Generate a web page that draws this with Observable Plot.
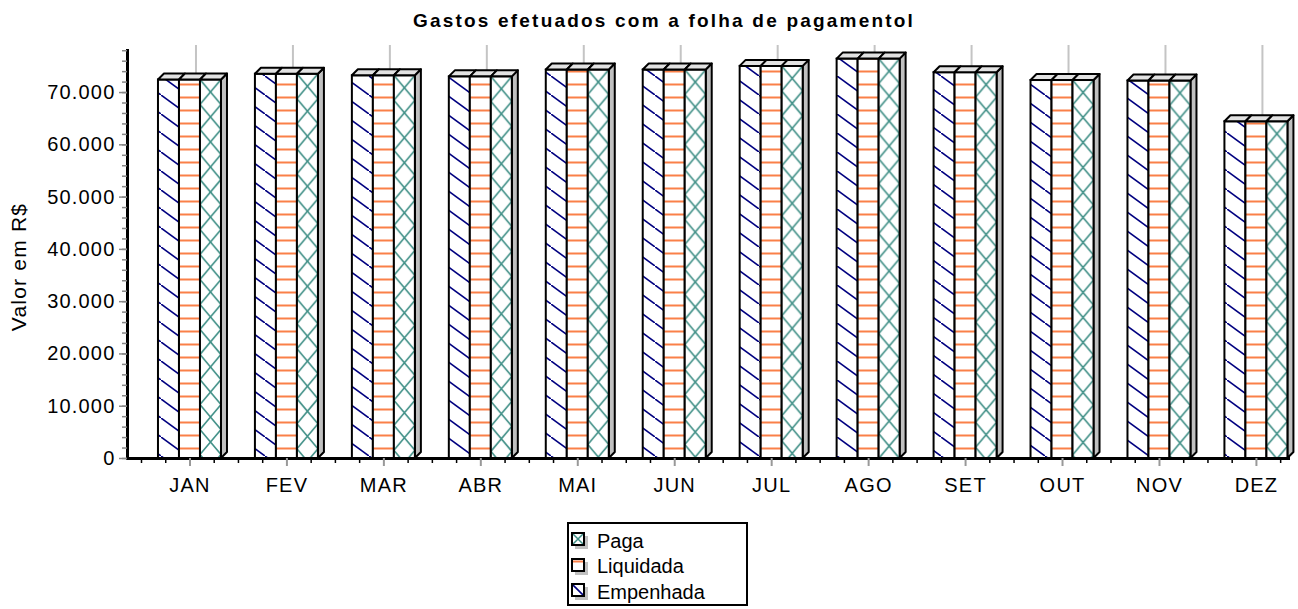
<!DOCTYPE html>
<html>
<head>
<meta charset="utf-8">
<script src="https://cdn.jsdelivr.net/npm/d3@7"></script>
<script src="https://cdn.jsdelivr.net/npm/@observablehq/plot@0.6"></script>
<style>
  body { margin: 0; background: #fff; font-family: "Liberation Sans", Arial, sans-serif; }
  #wrap { position: relative; width: 1298px; height: 609px; overflow: hidden; background: #fff; }
  #title { position: absolute; top: 10px; left: 0; width: 1328px; text-align: center; font-weight: bold; font-size: 19px; letter-spacing: 2.2px; color: #000; }
  #chart { position: absolute; top: 0; left: 0; }
  #chart svg text { font-size: 20px; letter-spacing: 1.2px; }
  #chart svg text.ylab { font-size: 21px; }
  #legend { position: absolute; left: 567px; top: 522px; width: 181px; height: 84px; border: 2px solid #000; background: #fff; box-sizing: border-box; }
  .item { position: absolute; left: 2px; height: 24px; display: flex; align-items: center; font-size: 20px; color: #000; }
  .item svg { margin-right: 8px; }
</style>
</head>
<body>
<div id="wrap">
  <div id="title">Gastos efetuados com a folha de pagamentol</div>
  <div id="chart"></div>
  <div id="legend"></div>
</div>
<script>
// ---- data ----
const months = ["JAN", "FEV", "MAR", "ABR", "MAI", "JUN", "JUL", "AGO", "SET", "OUT", "NOV", "DEZ"];
const seriesNames = ["Empenhada", "Liquidada", "Paga"];
const empenhada = [72400, 73500, 73200, 73000, 74300, 74300, 75000, 76400, 73800, 72300, 72200, 64400];
const liquidada = [72400, 73500, 73200, 73000, 74300, 74300, 75000, 76400, 73800, 72300, 72200, 64400];
const paga      = [72400, 73500, 73200, 73000, 74300, 74300, 75000, 76400, 73800, 72300, 72200, 64400];
const yTicks = [0, 10000, 20000, 30000, 40000, 50000, 60000, 70000];
const yMinorTicks = d3.range(0, 78001, 2000);
const legendOrder = ["Paga", "Liquidada", "Empenhada"];

const valuesBySeries = {Empenhada: empenhada, Liquidada: liquidada, Paga: paga};
const rows = [];
months.forEach((m, i) => seriesNames.forEach(s => rows.push({month: m, series: s, value: valuesBySeries[s][i]})));

// ---- layout ----
const W = 1298, H = 500;
const xRange = [141, 1304.4];
const step = (xRange[1] - xRange[0]) / months.length;
const barW = 21;
const depth = 6;
const inset = (step - barW) / 2;
const offset = {Empenhada: -barW, Liquidada: 0, Paga: barW};
const ns = "http://www.w3.org/2000/svg";

const fmt = d3.formatLocale({decimal: ",", thousands: ".", grouping: [3], currency: ["R$", ""]}).format(",d");

// ---- patterns ----
function patternDefs() {
  const defs = document.createElementNS(ns, "defs");
  defs.innerHTML = `
    <pattern id="pEmp" patternUnits="userSpaceOnUse" width="26" height="19">
      <rect width="26" height="19" fill="#fff"/>
      <path d="M-2.6,-1.9L28.6,20.9" stroke="#000080" stroke-width="1.6" fill="none"/>
    </pattern>
    <pattern id="pLiq" patternUnits="userSpaceOnUse" width="20" height="13">
      <rect width="20" height="13" fill="#fff"/>
      <path d="M0,6.5H20" stroke="#fa8048" stroke-width="2" fill="none"/>
    </pattern>
    <pattern id="pPaga" patternUnits="objectBoundingBox" patternContentUnits="userSpaceOnUse" x="0" y="0" width="1" height="1">
      <rect width="${barW}" height="600" fill="#fff"/>
      <path d="${d3.range(0, 24).map(k => `M0,${k*25}L${barW},${k*25+25}M0,${k*25+25}L${barW},${k*25}`).join("")}" stroke="#3f8f86" stroke-width="1.6" fill="none"/>
    </pattern>`;
  return defs;
}
const fills = {Empenhada: "url(#pEmp)", Liquidada: "url(#pLiq)", Paga: "url(#pPaga)"};

// 3D faces (top and right side) drawn from Plot's own scales
function faces(kind) {
  return (index, scales) => {
    const x = scales.x, y = scales.y;
    const bw = x.bandwidth ? x.bandwidth() : step;
    const g = document.createElementNS(ns, "g");
    for (const d of rows) {
      const cx = x(d.month) + bw / 2 + offset[d.series];
      const x0 = cx - barW / 2, x1 = cx + barW / 2;
      const yt = y(d.value), yb = y(0);
      let pts = null, fill;
      if (kind === "side" && d.series === "Paga") {
        pts = [[x1, yb], [x1 + depth, yb - depth], [x1 + depth, yt - depth], [x1, yt]];
        fill = "#c0c0c0";
      } else if (kind === "top") {
        pts = [[x0, yt], [x0 + depth, yt - depth], [x1 + depth, yt - depth], [x1, yt]];
        fill = "#e2e2e2";
      }
      if (!pts) continue;
      const p = document.createElementNS(ns, "polygon");
      p.setAttribute("points", pts.map(q => q.join(",")).join(" "));
      p.setAttribute("fill", fill);
      p.setAttribute("stroke", "#000");
      p.setAttribute("stroke-width", "2");
      p.setAttribute("stroke-linejoin", "round");
      g.appendChild(p);
    }
    return g;
  };
}

const q = step / 4;
const chart = Plot.plot({
  width: W,
  height: H,
  marginTop: 45,
  marginBottom: 42,
  marginLeft: 127,
  marginRight: 8,
  style: {fontFamily: "'Liberation Sans', Arial, sans-serif", fontSize: "20px", background: "transparent", color: "#000"},
  x: {type: "band", domain: months, range: xRange, padding: 0, round: false, axis: null, label: null},
  y: {domain: [0, 79000], axis: null, label: null},
  marks: [
    () => patternDefs(),
    // vertical grid lines (on the back wall of the 3D chart)
    Plot.ruleX(months, {x: d => d, y1: 0, y2: 79000, dx: depth, stroke: "#c4c4c4", strokeWidth: 2}),
    faces("side"),
    ...seriesNames.map(s => Plot.barY(rows.filter(r => r.series === s), {
      x: "month", y: "value", fill: fills[s], stroke: "#000", strokeWidth: 2,
      insetLeft: inset, insetRight: inset, dx: offset[s]
    })),
    faces("top"),
    // x axis line
    Plot.ruleY([0], {stroke: "#000", strokeWidth: 3}),
    // y axis line
    Plot.frame({anchor: "left", stroke: "#000", strokeWidth: 3, insetTop: 5}),
    // minor x ticks
    ...[-2, -1, 1].map(k => Plot.ruleX(months, {x: d => d, y1: 0, y2: 0, insetBottom: -5, dx: k * q, stroke: "#000", strokeWidth: 1.5})),
    // major x ticks + labels
    Plot.axisX({tickSize: 8, tickPadding: 11, stroke: "#999", strokeWidth: 2, fill: "#000", label: null}),
    // y axis ticks and labels
    Plot.axisY({ticks: yMinorTicks, tickSize: 5, tickFormat: () => "", stroke: "#888", strokeWidth: 1.5, label: null}),
    Plot.axisY({ticks: yTicks, tickFormat: fmt, tickSize: 8, tickPadding: 4, stroke: "#888", strokeWidth: 1.5, fill: "#000", label: null}),
    Plot.text(["Valor em R$"], {frameAnchor: "left", textAnchor: "middle", rotate: -90, dx: -108, dy: 15, fill: "#000", className: "ylabwrap"})
  ]
});
chart.querySelectorAll("text").forEach(t => { if (t.textContent === "Valor em R$") t.classList.add("ylab"); });
document.getElementById("chart").appendChild(chart);

// ---- legend ----
const legend = document.getElementById("legend");
const swatchInner = {
  Paga: `<path d="M0,0L12,12M12,0L0,12" stroke="#3f8f86" stroke-width="1.5"/>`,
  Liquidada: `<path d="M0,2.5H12" stroke="#fa8048" stroke-width="2"/>`,
  Empenhada: `<path d="M0,0L12,12" stroke="#000080" stroke-width="1.6"/>`
};
legendOrder.forEach((s, i) => {
  const div = document.createElement("div");
  div.className = "item";
  div.style.top = (5 + i * 25.5) + "px";
  div.innerHTML = `<svg width="18" height="18" viewBox="0 0 18 18">
      <rect x="4" y="4" width="13" height="13" fill="#c0c0c0"/>
      <svg x="1" y="1" width="12" height="12" overflow="hidden"><rect width="12" height="12" fill="#fff"/>${swatchInner[s]}</svg>
      <rect x="1" y="1" width="12" height="12" fill="none" stroke="#000" stroke-width="2"/>
    </svg><span>${s}</span>`;
  legend.appendChild(div);
});
</script>
</body>
</html>
